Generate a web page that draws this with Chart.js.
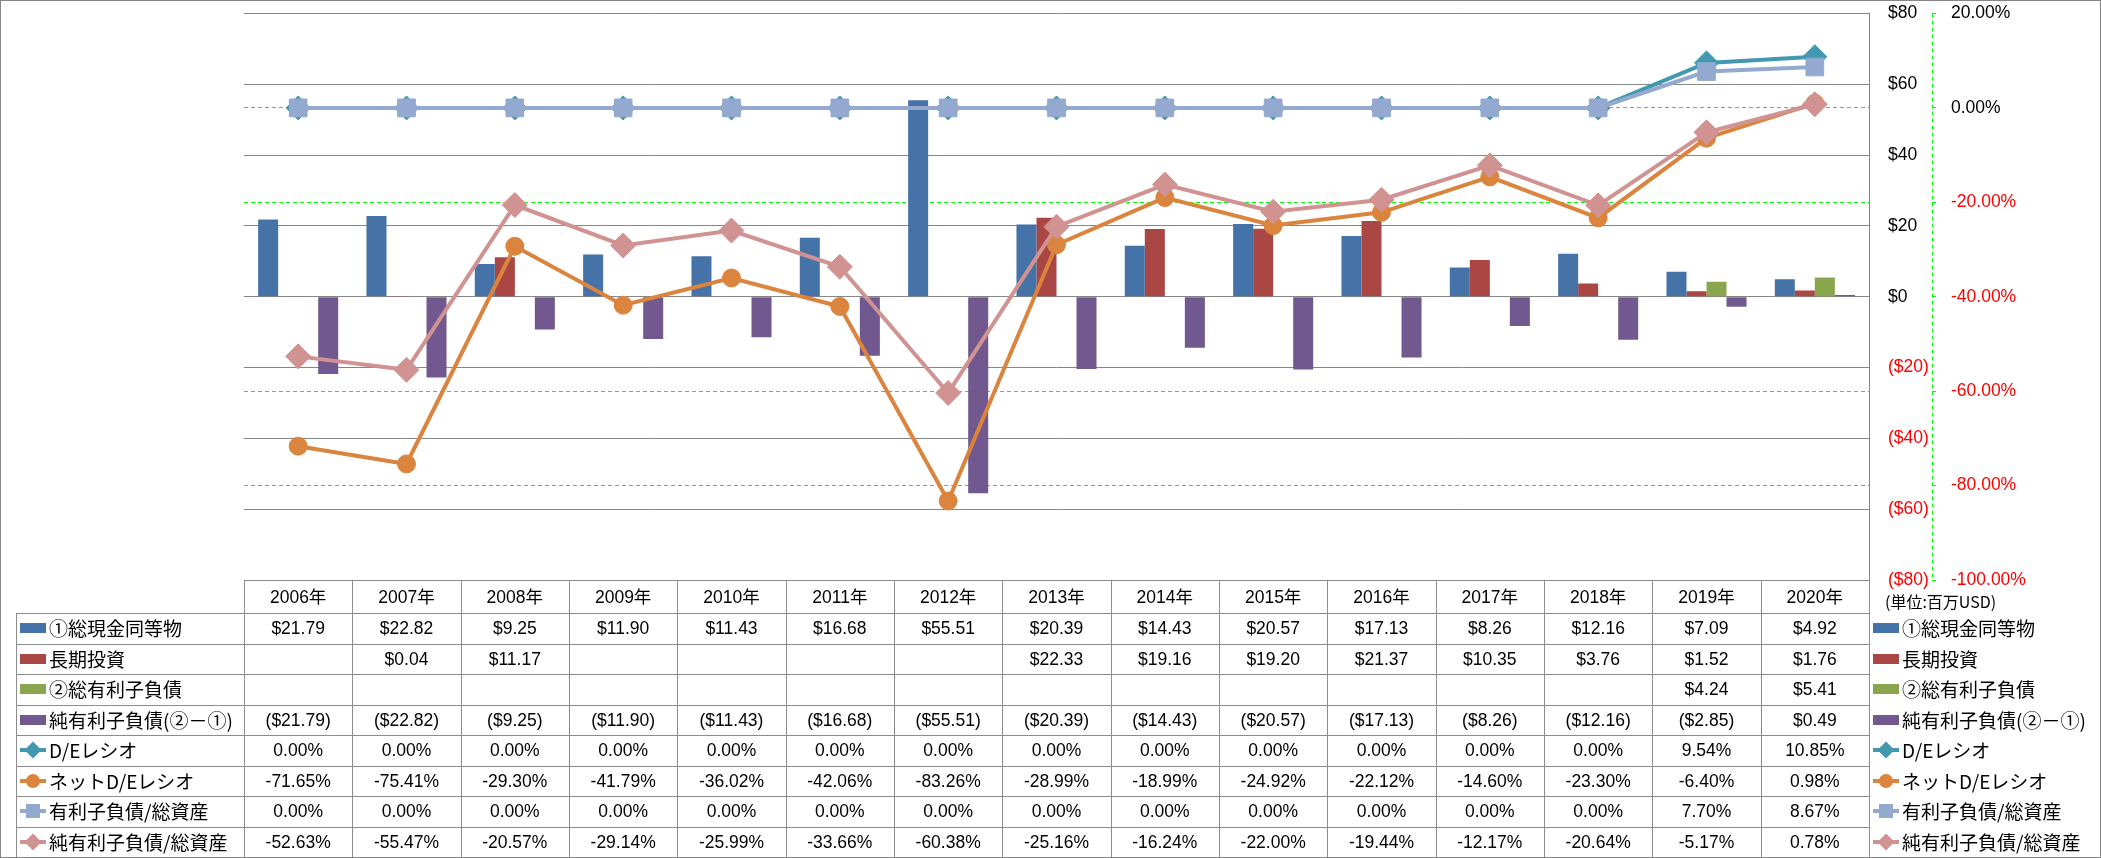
<!DOCTYPE html>
<html>
<head>
<meta charset="utf-8">
<script src="https://cdn.jsdelivr.net/npm/chart.js@4.4.1/dist/chart.umd.min.js"></script>
<style>
body { margin: 0; background: #fff; }
#wrap { position: relative; width: 2101px; height: 858px; overflow: hidden; }
#c { position: absolute; left: 0; top: 0; }
#frame { position: absolute; left: 0; top: 0; width: 2101px; height: 858px; border: 1px solid #868686; box-sizing: border-box; pointer-events: none; }
.hl, .vl { position: absolute; background: #8c8c8c; }
.cell { position: absolute; white-space: nowrap; color: #000; font: 17.5px "Liberation Sans", "Noto Sans CJK JP", sans-serif; text-align: center; }
.lab { position: absolute; white-space: nowrap; color: #000; font: 19px "Noto Sans CJK JP", sans-serif; }
.sw { position: absolute; width: 26px; height: 20px; }
.sw i { position: absolute; display: block; }
</style>
</head>
<body>
<div id="wrap">
  <canvas id="c" width="2101" height="858"></canvas>
  <div id="tbl"></div>
  <div id="frame"></div>
</div>
<script>
// 年度
const years = ['2006年', '2007年', '2008年', '2009年', '2010年', '2011年', '2012年', '2013年',
  '2014年', '2015年', '2016年', '2017年', '2018年', '2019年', '2020年'];

// 棒グラフ (百万USD)
const cashEq = [21.79, 22.82, 9.25, 11.90, 11.43, 16.68, 55.51, 20.39, 14.43, 20.57, 17.13, 8.26, 12.16, 7.09, 4.92];
const longInv = [null, 0.04, 11.17, null, null, null, null, 22.33, 19.16, 19.20, 21.37, 10.35, 3.76, 1.52, 1.76];
const totalDebt = [null, null, null, null, null, null, null, null, null, null, null, null, null, 4.24, 5.41];
const netDebt = [-21.79, -22.82, -9.25, -11.90, -11.43, -16.68, -55.51, -20.39, -14.43, -20.57, -17.13, -8.26, -12.16, -2.85, 0.49];

// 折れ線 (%)
const deRatio = [0, 0, 0, 0, 0, 0, 0, 0, 0, 0, 0, 0, 0, 9.54, 10.85];
const netDeRatio = [-71.65, -75.41, -29.30, -41.79, -36.02, -42.06, -83.26, -28.99, -18.99, -24.92, -22.12, -14.60, -23.30, -6.40, 0.98];
const debtToAssets = [0, 0, 0, 0, 0, 0, 0, 0, 0, 0, 0, 0, 0, 7.70, 8.67];
const netDebtToAssets = [-52.63, -55.47, -20.57, -29.14, -25.99, -33.66, -60.38, -25.16, -16.24, -22.00, -19.44, -12.17, -20.64, -5.17, 0.78];

const unitLabel = '(単位:百万USD)';

const C = {
  blue: '#4572A7', red: '#AA4643', green: '#89A54E', purple: '#71588F',
  teal: '#4198AF', orange: '#DB843D', lblue: '#93A9CF', pink: '#D19392'
};

function fmtUsd(v) {
  if (v == null) return '';
  return v < 0 ? '($' + (-v).toFixed(2) + ')' : '$' + v.toFixed(2);
}
function fmtPct(v) {
  return v == null ? '' : v.toFixed(2) + '%';
}

function bar(label, data, color) {
  return { type: 'bar', label, data, backgroundColor: color, borderWidth: 0, yAxisID: 'y', order: 10,
    categoryPercentage: 0.739, barPercentage: 1.0 };
}
function line(label, data, color, style, r, order) {
  return { type: 'line', label, data, borderColor: color, backgroundColor: color, borderWidth: 4,
    pointStyle: style, pointRadius: r, pointBorderColor: color, pointBackgroundColor: color,
    pointBorderWidth: 1, tension: 0, yAxisID: 'y1', order };
}

// 軸のラベル余白がプロット領域を押し下げないようにする
function fitAxis(w) {
  return s => { s.width = w; s.paddingTop = 0; s.paddingBottom = 0; };
}

// Y1 の破線の軸線
const dashedAxis = {
  id: 'dashedAxis',
  afterDraw(chart) {
    const s = chart.scales.y1, ctx = chart.ctx;
    const x = Math.round(s.left) + 0.5;
    ctx.save();
    ctx.strokeStyle = '#00ff00';
    ctx.lineWidth = 1;
    ctx.setLineDash([4, 3]);
    ctx.beginPath();
    ctx.moveTo(x, s.top);
    ctx.lineTo(x, s.bottom);
    ctx.stroke();
    ctx.restore();
  }
};

const tickFont = { family: '"Liberation Sans", sans-serif', size: 17.5 };

const chart = new Chart(document.getElementById('c'), {
  type: 'bar',
  data: {
    labels: years,
    datasets: [
      bar('①総現金同等物', cashEq, C.blue),
      bar('長期投資', longInv, C.red),
      bar('②総有利子負債', totalDebt, C.green),
      bar('純有利子負債(②－①)', netDebt, C.purple),
      line('D/Eレシオ', deRatio, C.teal, 'rectRot', 12, 3),
      line('ネットD/Eレシオ', netDeRatio, C.orange, 'circle', 9, 2),
      line('有利子負債/総資産', debtToAssets, C.lblue, 'rect', 12.5, 1),
      line('純有利子負債/総資産', netDebtToAssets, C.pink, 'rectRot', 12.5, 0)
    ]
  },
  options: {
    responsive: false,
    animation: false,
    layout: { padding: { left: 244, top: 13, right: 39, bottom: 278 } },
    plugins: { legend: { display: false }, tooltip: { enabled: false } },
    scales: {
      x: { type: 'category', display: false, offset: true },
      y: {
        position: 'right', min: -80, max: 80,
        afterFit: fitAxis(63),
        grid: { color: '#868686', lineWidth: 1, drawTicks: false },
        border: { color: '#868686', width: 1 },
        ticks: {
          stepSize: 20, padding: 19, font: tickFont,
          color: c => c.tick && c.tick.value < 0 ? '#ff0000' : '#000000',
          callback: v => v < 0 ? '($' + (-v) + ')' : '$' + v
        }
      },
      y1: {
        position: 'right', min: -100, max: 20,
        afterFit: fitAxis(130),
        grid: {
          color: c => c.tick && [20, -40, -100].includes(c.tick.value) ? 'rgba(0,0,0,0)' : '#00ff00',
          lineWidth: 1, drawTicks: true, tickLength: 4, tickColor: '#00ff00', tickBorderDash: []
        },
        border: { display: false, dash: [4, 3] },
        ticks: {
          stepSize: 20, padding: 15, font: tickFont,
          color: c => c.tick && c.tick.value < 0 ? '#ff0000' : '#000000',
          callback: v => v.toFixed(2) + '%'
        }
      }
    }
  },
  plugins: [dashedAxis]
});

// データテーブル
const rows = [
  { name: '①総現金同等物', data: cashEq, color: C.blue, kind: 'bar', fmt: fmtUsd },
  { name: '長期投資', data: longInv, color: C.red, kind: 'bar', fmt: fmtUsd },
  { name: '②総有利子負債', data: totalDebt, color: C.green, kind: 'bar', fmt: fmtUsd },
  { name: '純有利子負債(②－①)', data: netDebt, color: C.purple, kind: 'bar', fmt: fmtUsd },
  { name: 'D/Eレシオ', data: deRatio, color: C.teal, kind: 'diamond', fmt: fmtPct },
  { name: 'ネットD/Eレシオ', data: netDeRatio, color: C.orange, kind: 'circle', fmt: fmtPct },
  { name: '有利子負債/総資産', data: debtToAssets, color: C.lblue, kind: 'square', fmt: fmtPct },
  { name: '純有利子負債/総資産', data: netDebtToAssets, color: C.pink, kind: 'diamond', fmt: fmtPct }
];

const tbl = document.getElementById('tbl');
const area = chart.chartArea;
const xs = chart.scales.x;
const colW = (area.right - area.left) / years.length;
const headTop = Math.round(area.bottom);
const bodyTop = 613, rowH = 30.5, labelLeft = 16;

function add(cls, css, html) {
  const d = document.createElement('div');
  d.className = cls;
  d.style.cssText = css;
  if (html != null) d.innerHTML = html;
  tbl.appendChild(d);
  return d;
}

function swatch(r, left, top) {
  let h = '';
  if (r.kind === 'bar') {
    h = `<i style="left:0;top:5px;width:26px;height:10px;background:${r.color}"></i>`;
  } else {
    h = `<i style="left:0;top:8px;width:26px;height:4px;background:${r.color}"></i>`;
    if (r.kind === 'diamond') h += `<i style="left:7px;top:4px;width:12px;height:12px;background:${r.color};transform:rotate(45deg)"></i>`;
    if (r.kind === 'circle') h += `<i style="left:6px;top:3px;width:14px;height:14px;border-radius:7px;background:${r.color}"></i>`;
    if (r.kind === 'square') h += `<i style="left:6px;top:3px;width:14px;height:14px;background:${r.color}"></i>`;
  }
  add('sw', `left:${left}px;top:${top}px`, h);
}

// 見出し行
years.forEach((y, i) => {
  const cx = xs.getPixelForValue(i);
  add('cell', `left:${cx - colW / 2}px;top:${headTop}px;width:${colW}px;height:${bodyTop - headTop}px;line-height:${bodyTop - headTop + 1}px`, y);
});
add('lab', `left:1885px;top:${headTop + 9}px;font-size:16px;line-height:24px`, unitLabel);

// データ行
rows.forEach((r, ri) => {
  const top = bodyTop + ri * rowH;
  swatch(r, labelLeft + 4, top + 5);
  add('lab', `left:${labelLeft + 33}px;top:${top}px;height:${rowH}px;line-height:${rowH}px`, r.name);
  r.data.forEach((v, i) => {
    const cx = xs.getPixelForValue(i);
    add('cell', `left:${cx - colW / 2}px;top:${top}px;width:${colW}px;height:${rowH}px;line-height:${rowH + 1}px`, r.fmt(v));
  });
  // 右側の凡例
  swatch(r, Math.round(area.right) + 4, top + 5);
  add('lab', `left:${Math.round(area.right) + 33}px;top:${top}px;height:${rowH}px;line-height:${rowH}px`, r.name);
});

// 罫線
const right = Math.round(area.right);
add('hl', `left:${Math.round(area.left)}px;top:${headTop}px;width:${right - Math.round(area.left) + 1}px;height:1px`);
for (let i = 0; i <= rows.length; i++) {
  const y = Math.round(bodyTop + i * rowH);
  add('hl', `left:${labelLeft}px;top:${y}px;width:${right - labelLeft + 1}px;height:1px`);
}
add('vl', `left:${labelLeft}px;top:${bodyTop}px;width:1px;height:${rowH * rows.length}px`);
for (let i = 0; i <= years.length; i++) {
  const x = Math.round(area.left + i * colW);
  add('vl', `left:${x}px;top:${headTop}px;width:1px;height:${858 - headTop}px`);
}
</script>
</body>
</html>
